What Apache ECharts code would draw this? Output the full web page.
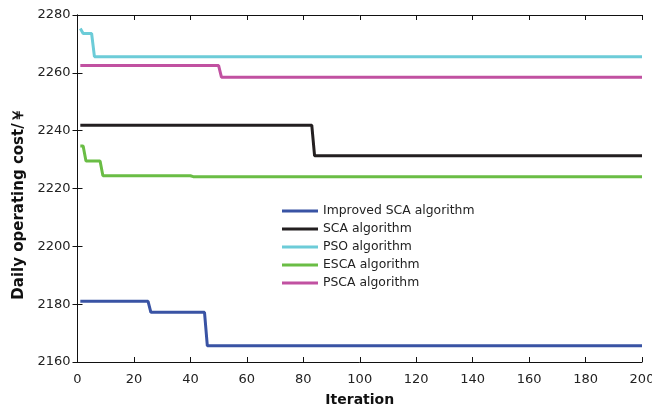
<!DOCTYPE html>
<html>
<head>
<meta charset="utf-8">
<script src="https://cdn.jsdelivr.net/npm/echarts@6/dist/echarts.min.js"></script>
<style>html,body{margin:0;padding:0;background:#fff;}#chart{width:652px;height:408px;}</style>
</head>
<body>
<div id="chart"></div>
<script>
// Data
const seriesNames = ['Improved SCA algorithm', 'SCA algorithm', 'PSO algorithm', 'ESCA algorithm', 'PSCA algorithm'];
const improvedIter = [1, 25, 26, 45, 46, 200];
const improvedCost = [2181, 2181, 2177.2, 2177.2, 2165.6, 2165.6];
const scaIter = [1, 83, 84, 200];
const scaCost = [2241.9, 2241.9, 2231.3, 2231.3];
const psoIter = [1, 2, 5, 6, 200];
const psoCost = [2275.3, 2273.6, 2273.6, 2265.6, 2265.6];
const escaIter = [1, 2, 3, 8, 9, 40, 41, 200];
const escaCost = [2234.7, 2234.7, 2229.5, 2229.5, 2224.4, 2224.4, 2224.1, 2224.1];
const pscaIter = [1, 50, 51, 200];
const pscaCost = [2262.5, 2262.5, 2258.5, 2258.5];
const xTicks = [0, 20, 40, 60, 80, 100, 120, 140, 160, 180, 200];
const yTicks = [2160, 2180, 2200, 2220, 2240, 2260, 2280];

const colors = ['#3953A4', '#231F20', '#6CCCD8', '#6ABD45', '#C151A1'];
const pairs = (xs, ys) => xs.map((x, i) => [x, ys[i]]);
const allData = [
  pairs(improvedIter, improvedCost),
  pairs(scaIter, scaCost),
  pairs(psoIter, psoCost),
  pairs(escaIter, escaCost),
  pairs(pscaIter, pscaCost)
];

const plain = v => String(v);
const tickFont = {fontFamily: 'DejaVu Sans', fontSize: 13, color: '#222', formatter: plain};
const axisLine = {show: true, lineStyle: {color: '#111', width: 1}};
const axisTick = {show: true, inside: true, length: 5, lineStyle: {color: '#111', width: 1}};

const chart = echarts.init(document.getElementById('chart'), null, {renderer: 'canvas'});
chart.setOption({
  animation: false,
  backgroundColor: '#fff',
  color: colors,
  grid: {left: 77.5, right: 10, top: 15, bottom: 46, containLabel: false, outerBoundsMode: 'none'},
  legend: {
    orient: 'vertical',
    left: 277,
    top: 200,
    padding: 5,
    icon: 'rect',
    itemWidth: 36,
    itemHeight: 3,
    itemGap: 6,
    data: seriesNames,
    textStyle: {fontFamily: 'DejaVu Sans', fontSize: 12.4, color: '#222'}
  },
  xAxis: [
    {
      type: 'value', min: xTicks[0], max: xTicks[xTicks.length - 1], interval: xTicks[1] - xTicks[0],
      name: 'Iteration', nameLocation: 'middle', nameGap: 31,
      nameTextStyle: {fontFamily: 'DejaVu Sans', fontWeight: 'bold', fontSize: 14, color: '#111'},
      axisLine: axisLine, axisTick: axisTick, splitLine: {show: false},
      axisLabel: Object.assign({margin: 11}, tickFont)
    },
    {
      type: 'value', position: 'top', min: xTicks[0], max: xTicks[xTicks.length - 1], interval: xTicks[1] - xTicks[0],
      axisLine: axisLine, axisTick: axisTick, splitLine: {show: false}, axisLabel: {show: false}
    }
  ],
  yAxis: [
    {
      type: 'value', min: yTicks[0], max: yTicks[yTicks.length - 1], interval: yTicks[1] - yTicks[0],
      name: 'Daily operating cost/￥', nameLocation: 'middle', nameGap: 46,
      nameTextStyle: {fontFamily: 'DejaVu Sans', fontWeight: 'bold', fontSize: 15, color: '#111', padding: [0, 31, 0, 0]},
      axisLine: axisLine, axisTick: axisTick, splitLine: {show: false},
      axisLabel: Object.assign({margin: 7}, tickFont)
    },
    {
      type: 'value', position: 'right', min: yTicks[0], max: yTicks[yTicks.length - 1], interval: yTicks[1] - yTicks[0],
      axisLine: axisLine, axisTick: axisTick, splitLine: {show: false}, axisLabel: {show: false}
    }
  ],
  series: seriesNames.map((name, i) => ({
    name: name,
    type: 'line',
    xAxisIndex: 0,
    yAxisIndex: 0,
    data: allData[i],
    symbol: 'none',
    showSymbol: false,
    lineStyle: {width: 3, color: colors[i]},
    itemStyle: {color: colors[i]}
  }))
});
</script>
</body>
</html>
